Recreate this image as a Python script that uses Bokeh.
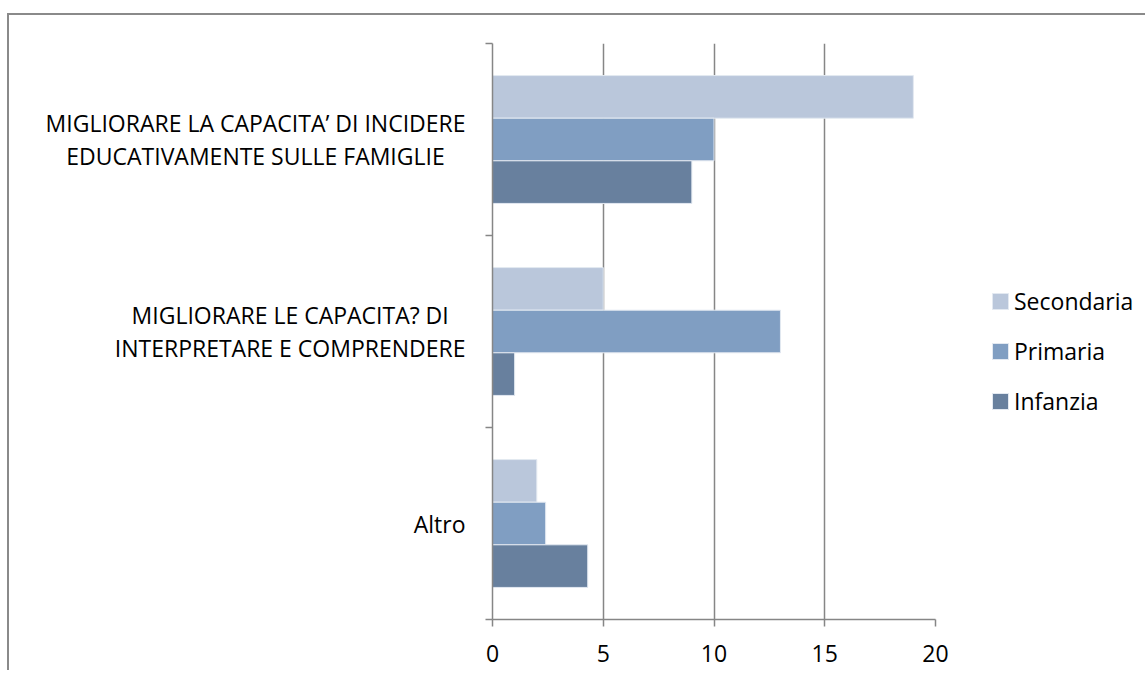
from bokeh.plotting import figure
from bokeh.layouts import row
from bokeh.models import Range1d, FixedTicker, ColumnDataSource, Legend, LegendItem
from bokeh.core.properties import value
from bokeh.transform import dodge
from bokeh.embed import file_html
from bokeh.resources import INLINE

# ---- data (top to bottom as shown) ----
categories = [
    "MIGLIORARE LA CAPACITA\u2019 DI INCIDERE EDUCATIVAMENTE SULLE FAMIGLIE",
    "MIGLIORARE LE CAPACITA? DI INTERPRETARE E COMPRENDERE",
    "Altro",
]
category_labels = [
    "MIGLIORARE LA CAPACITA\u2019 DI INCIDERE\nEDUCATIVAMENTE SULLE FAMIGLIE",
    "MIGLIORARE LE CAPACITA? DI\nINTERPRETARE E COMPRENDERE",
    "Altro",
]
series_names = ["Secondaria", "Primaria", "Infanzia"]
secondaria = [19, 5, 2]
primaria = [10, 13, 2.4]
infanzia = [9, 1, 4.3]
x_ticks = [0, 5, 10, 15, 20]

FONT = "Open Sans"
GRAY = "#868686"
colors = {"Secondaria": "#BAC7DB", "Primaria": "#809EC2", "Infanzia": "#68809E"}

n = len(categories)
centers = [n - 0.5 - i for i in range(n)]
source = ColumnDataSource(dict(y=centers, label=category_labels,
                               Secondaria=secondaria, Primaria=primaria,
                               Infanzia=infanzia))
y_range = Range1d(0, n)

# ---- left panel with category labels ----
pl = figure(output_backend="svg", toolbar_location=None,
            frame_width=473, frame_height=576,
            min_border_left=0, min_border_right=0,
            min_border_top=28, min_border_bottom=51,
            x_range=Range1d(0, 1), y_range=y_range)
pl.axis.visible = False
pl.grid.grid_line_color = None
pl.outline_line_color = None
pl.text(x=1, y="y", text="label", source=source, x_offset=-17,
        anchor=value("center_right"), text_align="center",
        text_baseline="middle", text_font=value(FONT),
        text_font_size="23px", text_line_height=1.02, text_color="black")

# ---- main chart ----
p = figure(output_backend="svg", toolbar_location=None,
           frame_width=443, frame_height=576,
           min_border_left=10, min_border_right=202,
           min_border_top=28, min_border_bottom=51,
           x_range=Range1d(0, 20), y_range=y_range)
p.outline_line_color = None

bh = 0.222
offsets = {"Secondaria": bh, "Primaria": 0.0, "Infanzia": -bh}
renderers = {}
for name in series_names:
    renderers[name] = p.hbar(y=dodge("y", offsets[name]), right=name, left=0,
                             height=bh, source=source, fill_color=colors[name],
                             line_color="#E3E9F1", line_width=1)

# x axis
p.xaxis.ticker = FixedTicker(ticks=x_ticks)
p.xaxis.axis_line_color = GRAY
p.xaxis.axis_line_width = 1.5
p.xaxis.major_tick_line_color = GRAY
p.xaxis.major_tick_line_width = 1.5
p.xaxis.major_tick_out = 7
p.xaxis.major_tick_in = 0
p.xaxis.minor_tick_line_color = None
p.xaxis.major_label_text_font = FONT
p.xaxis.major_label_text_font_size = "23px"
p.xaxis.major_label_text_color = "black"
p.xaxis.major_label_standoff = 18

p.xgrid.ticker = FixedTicker(ticks=x_ticks)
p.xgrid.grid_line_color = GRAY
p.xgrid.grid_line_width = 1.5
p.ygrid.grid_line_color = None

# y axis: boundary ticks only, labels drawn in the left panel
p.yaxis.ticker = FixedTicker(ticks=[], minor_ticks=list(range(n + 1)))
p.yaxis.axis_line_color = GRAY
p.yaxis.axis_line_width = 1.5
p.yaxis.major_tick_line_color = None
p.yaxis.minor_tick_line_color = GRAY
p.yaxis.minor_tick_line_width = 1.5
p.yaxis.minor_tick_out = 7
p.yaxis.minor_tick_in = 0
p.yaxis.major_label_standoff = 0

legend = Legend(items=[LegendItem(label=nm, renderers=[renderers[nm]]) for nm in series_names],
                location=(55, 202), orientation="vertical",
                glyph_width=20, glyph_height=20, label_height=23, spacing=18,
                label_standoff=4, padding=0, margin=0,
                border_line_color=None, background_fill_alpha=0,
                label_text_font=FONT, label_text_font_size="23px",
                label_text_color="black")
p.add_layout(legend, "right")

layout = row(pl, p, spacing=0)
layout.styles = {"border-top": "2px solid #8a8a8a", "border-left": "2px solid #8a8a8a",
                 "margin-top": "13px", "margin-left": "7px"}

open("out.html", "w").write(file_html(layout, INLINE))
